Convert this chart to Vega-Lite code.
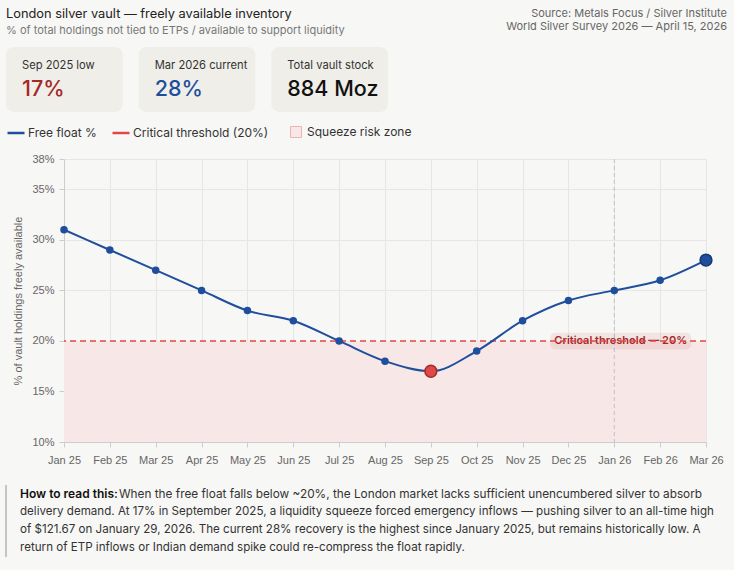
{
  "$schema": "https://vega.github.io/schema/vega-lite/v6.json",
  "background": "#f7f7f5",
  "padding": {"left": 5, "top": 0, "right": 8, "bottom": 12},
  "config": {"view": {"stroke": null}, "font": "Inter"},
  "spacing": 11,
  "resolve": {"scale": {"color": "independent", "fill": "independent"}, "legend": {"color": "independent", "fill": "independent"}},
  "vconcat": [
    {
      "spacing": 0,
      "vconcat": [
        {
          "width": 663,
          "height": 47,
          "data": {"values": [{}]},
          "layer": [
            {
              "mark": {"type": "text", "align": "left", "baseline": "alphabetic", "fontSize": 12.8, "color": "#222222", "font": "Inter"},
              "encoding": {"x": {"value": -58}, "y": {"value": 18}, "text": {"value": "London silver vault — freely available inventory"}}
            },
            {
              "mark": {"type": "text", "align": "left", "baseline": "alphabetic", "fontSize": 11, "color": "#777777", "font": "Inter"},
              "encoding": {"x": {"value": -58}, "y": {"value": 34}, "text": {"value": "% of total holdings not tied to ETPs / available to support liquidity"}}
            },
            {
              "mark": {"type": "text", "align": "right", "baseline": "alphabetic", "fontSize": 11, "lineHeight": 13, "color": "#666666", "font": "Inter"},
              "encoding": {"x": {"value": 663}, "y": {"value": 17}, "text": {"value": ["Source: Metals Focus / Silver Institute", "World Silver Survey 2026 — April 15, 2026"]}}
            }
          ]
        },
        {
          "width": 663,
          "height": 65,
          "data": {"values": [
            {"label": "Sep 2025 low", "value": "17%"},
            {"label": "Mar 2026 current", "value": "28%"},
            {"label": "Total vault stock", "value": "884 Moz"}
          ]},
          "encoding": {
            "x": {"field": "label", "type": "nominal", "sort": null, "scale": {"type": "band", "range": [-58, 324], "paddingInner": 0.12, "paddingOuter": 0}, "axis": null}
          },
          "layer": [
            {"mark": {"type": "rect", "fill": "#efeee8", "cornerRadius": 8}},
            {
              "mark": {"type": "text", "align": "left", "baseline": "middle", "fontSize": 11.2, "color": "#333333", "dx": 16, "font": "Inter"},
              "encoding": {"x": {"field": "label", "type": "nominal", "sort": null, "bandPosition": 0}, "y": {"value": 19}, "text": {"field": "label"}}
            },
            {
              "mark": {"type": "text", "align": "left", "baseline": "middle", "fontSize": 21.5, "fontWeight": 500, "dx": 16, "font": "Inter"},
              "encoding": {
                "x": {"field": "label", "type": "nominal", "sort": null, "bandPosition": 0},
                "y": {"value": 43},
                "text": {"field": "value"},
                "color": {"condition": [{"test": "datum.label === 'Sep 2025 low'", "value": "#a52828"}, {"test": "datum.label === 'Mar 2026 current'", "value": "#1f4e9c"}], "value": "#111111"}
              }
            }
          ]
        }
      ]
    },
    {
      "spacing": 19,
      "resolve": {"scale": {"color": "independent", "fill": "independent"}, "legend": {"color": "independent", "fill": "independent"}},
      "vconcat": [
        {
          "width": 642,
          "height": 283,
          "data": {"values": [
            {"month": "Jan 25", "float": 31},
            {"month": "Feb 25", "float": 29},
            {"month": "Mar 25", "float": 27},
            {"month": "Apr 25", "float": 25},
            {"month": "May 25", "float": 23},
            {"month": "Jun 25", "float": 22},
            {"month": "Jul 25", "float": 20},
            {"month": "Aug 25", "float": 18},
            {"month": "Sep 25", "float": 17},
            {"month": "Oct 25", "float": 19},
            {"month": "Nov 25", "float": 22},
            {"month": "Dec 25", "float": 24},
            {"month": "Jan 26", "float": 25},
            {"month": "Feb 26", "float": 26},
            {"month": "Mar 26", "float": 28}
          ]},
          "layer": [
            {
              "data": {"values": [{}]},
              "mark": {"type": "rect", "opacity": 1},
              "encoding": {
                "y": {
                  "datum": 10, "type": "quantitative",
                  "scale": {"domain": [10, 38], "nice": false, "zero": false},
                  "axis": {
                    "values": [10, 15, 20, 25, 30, 35, 38],
                    "labelExpr": "datum.value + '%'",
                    "title": "% of vault holdings freely available",
                    "titleFont": "Liberation Sans", "titleFontSize": 11, "titleFontWeight": "normal", "titleColor": "#666666", "titlePadding": 8,
                    "labelFont": "Liberation Sans", "labelFontSize": 11, "labelColor": "#666666", "labelPadding": 5,
                    "grid": true, "gridColor": "#e6e6e4", "domainColor": "#cccccc", "tickColor": "#cccccc", "tickSize": 5
                  }
                },
                "y2": {"datum": 20},
                "fill": {
                  "datum": "Squeeze risk zone", "type": "nominal",
                  "scale": {"domain": ["Squeeze risk zone"], "range": ["#f7e7e7"]},
                  "legend": {
                    "orient": "none", "legendX": 226, "legendY": -33, "direction": "horizontal", "title": null,
                    "labelFont": "Inter", "labelFontSize": 12, "labelColor": "#333333", "labelOffset": 5,
                    "symbolType": "square", "symbolSize": 121, "symbolStrokeColor": "#e8b4b4", "symbolStrokeWidth": 1, "symbolFillColor": "#f5dfdf", "symbolOpacity": 1
                  }
                }
              }
            },
            {
              "data": {"values": [{}]},
              "mark": {"type": "rule", "color": "#b8c2d0", "strokeWidth": 1, "strokeDash": [4, 3]},
              "encoding": {
                "x": {
                  "datum": "Jan 26", "type": "ordinal",
                  "scale": {"type": "point", "padding": 0, "domain": ["Jan 25", "Feb 25", "Mar 25", "Apr 25", "May 25", "Jun 25", "Jul 25", "Aug 25", "Sep 25", "Oct 25", "Nov 25", "Dec 25", "Jan 26", "Feb 26", "Mar 26"]},
                  "axis": {
                    "title": null, "labelAngle": 0,
                    "labelFont": "Liberation Sans", "labelFontSize": 11, "labelColor": "#666666", "labelPadding": 7,
                    "grid": true, "gridColor": "#e6e6e4", "domainColor": "#cccccc", "tickColor": "#cccccc", "tickSize": 5
                  }
                }
              }
            },
            {
              "data": {"values": [{}]},
              "mark": {"type": "bar", "width": 141, "cornerRadius": 5, "fill": "#c44848", "opacity": 0.1, "xOffset": 6.5},
              "encoding": {
                "x": {"datum": "Jan 26", "type": "ordinal"},
                "y": {"datum": 19.15, "type": "quantitative"},
                "y2": {"datum": 20.8}
              }
            },
            {
              "data": {"values": [{}]},
              "mark": {"type": "text", "align": "center", "baseline": "middle", "fontSize": 11, "fontWeight": 600, "color": "#a52828", "xOffset": 6.5, "font": "Inter"},
              "encoding": {
                "x": {"datum": "Jan 26", "type": "ordinal"},
                "y": {"datum": 20, "type": "quantitative"},
                "text": {"value": "Critical threshold — 20%"}
              }
            },
            {
              "data": {"values": [{}]},
              "mark": {"type": "rule", "strokeWidth": 1.5, "strokeDash": [6, 4]},
              "encoding": {
                "y": {"datum": 20, "type": "quantitative"},
                "color": {
                  "datum": "Critical threshold (20%)", "type": "nominal",
                  "scale": {"domain": ["Free float %", "Critical threshold (20%)"], "range": ["#1f4e9c", "#e04848"]},
                  "legend": {
                    "orient": "none", "legendX": -58, "legendY": -36, "direction": "horizontal", "title": null,
                    "labelFont": "Inter", "labelFontSize": 12, "labelColor": "#333333", "columnPadding": 10, "labelOffset": 2,
                    "symbolType": "stroke", "symbolSize": 289, "symbolStrokeWidth": 2.5, "symbolOpacity": 1, "symbolDash": []
                  }
                }
              }
            },
            {
              "mark": {"type": "line", "interpolate": "monotone", "strokeWidth": 2},
              "encoding": {
                "x": {"field": "month", "type": "ordinal"},
                "y": {"field": "float", "type": "quantitative"},
                "color": {"datum": "Free float %", "type": "nominal"}
              }
            },
            {
              "mark": {"type": "circle", "opacity": 1, "strokeWidth": 1.5},
              "encoding": {
                "x": {"field": "month", "type": "ordinal"},
                "y": {"field": "float", "type": "quantitative"},
                "size": {"condition": {"test": "datum.month === 'Sep 25' || datum.month === 'Mar 26'", "value": 140}, "value": 36},
                "fill": {"condition": {"test": "datum.month === 'Sep 25'", "value": "#e04848"}, "value": "#1f4e9c"},
                "stroke": {"condition": [{"test": "datum.month === 'Sep 25'", "value": "#a32a2a"}, {"test": "datum.month === 'Mar 26'", "value": "#163a72"}], "value": "#1f4e9c"}
              }
            }
          ]
        },
        {
          "width": 663,
          "height": 72,
          "data": {"values": [
            {"line": 1, "text": "When the free float falls below ~20%, the London market lacks sufficient unencumbered silver to absorb"},
            {"line": 2, "text": "delivery demand. At 17% in September 2025, a liquidity squeeze forced emergency inflows — pushing silver to an all-time high"},
            {"line": 3, "text": "of $121.67 on January 29, 2026. The current 28% recovery is the highest since January 2025, but remains historically low. A"},
            {"line": 4, "text": "return of ETP inflows or Indian demand spike could re-compress the float rapidly."}
          ]},
          "layer": [
            {
              "data": {"values": [{}]},
              "mark": {"type": "rule", "color": "#c4c4c4", "strokeWidth": 2},
              "encoding": {"x": {"value": -58}}
            },
            {
              "data": {"values": [{}]},
              "mark": {"type": "text", "align": "left", "baseline": "middle", "fontSize": 12, "fontWeight": 600, "color": "#111111", "font": "Inter"},
              "encoding": {
                "x": {"value": -44},
                "y": {"datum": 1, "type": "ordinal", "scale": {"type": "point", "padding": 0.5, "domain": [1, 2, 3, 4]}, "axis": null},
                "text": {"value": "How to read this:"}
              }
            },
            {
              "transform": [{"filter": "datum.line === 1"}],
              "mark": {"type": "text", "align": "left", "baseline": "middle", "fontSize": 11.8, "color": "#333333", "font": "Inter"},
              "encoding": {
                "x": {"value": 55},
                "y": {"field": "line", "type": "ordinal"},
                "text": {"field": "text"}
              }
            },
            {
              "transform": [{"filter": "datum.line > 1"}],
              "mark": {"type": "text", "align": "left", "baseline": "middle", "fontSize": 11.6, "color": "#333333", "font": "Inter"},
              "encoding": {
                "x": {"value": -44},
                "y": {"field": "line", "type": "ordinal"},
                "text": {"field": "text"}
              }
            }
          ]
        }
      ]
    }
  ]
}
